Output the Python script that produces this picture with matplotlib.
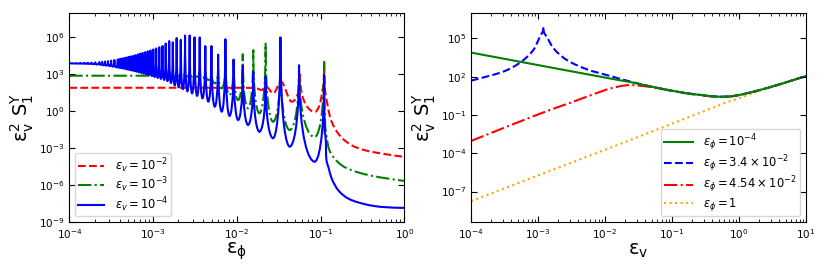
import numpy as np
import matplotlib
matplotlib.use("Agg")
import matplotlib.pyplot as plt
from matplotlib.path import Path
from matplotlib.patches import PathPatch
from matplotlib.ticker import NullLocator, LogLocator

# ---- data (log10 values) ----
# node kinds: 'l' plain point, 'h' flat point (trough / rounded bump), 'p' sharp resonance peak

# left panel, eps_v = 1e-4 (blue)
blue_lx = [-4.0, -3.985,
           -3.965, -3.94, -3.919, -3.89, -3.870, -3.84, -3.818, -3.80, -3.778, -3.76,
           -3.735, -3.71, -3.690, -3.67, -3.642, -3.625, -3.609, -3.59, -3.575, -3.557,
           -3.539, -3.52, -3.501, -3.48, -3.462, -3.44, -3.421, -3.41, -3.400, -3.389,
           -3.378, -3.367, -3.356, -3.345, -3.333, -3.32, -3.310, -3.298, -3.286, -3.273,
           -3.261, -3.248, -3.235, -3.222, -3.209, -3.195, -3.181, -3.167, -3.153, -3.138,
           -3.124, -3.109, -3.094, -3.078, -3.063, -3.047, -3.031, -3.014, -2.997, -2.98,
           -2.963, -2.945, -2.926, -2.907, -2.888, -2.868,
           -2.849, -2.828, -2.807, -2.786, -2.764, -2.741, -2.718, -2.694, -2.669, -2.644,
           -2.618, -2.59, -2.563, -2.534, -2.505, -2.474, -2.443, -2.41, -2.376, -2.34,
           -2.303, -2.263, -2.223, -2.18, -2.136, -2.087, -2.038, -1.984, -1.929, -1.866,
           -1.803, -1.73, -1.656, -1.567, -1.479, -1.368, -1.257, -1.07, -0.957,
           -0.947, -0.935, -0.907, -0.867, -0.788, -0.669, -0.469, -0.27, 0.0]
blue_ly = [3.89, 3.89,
           3.90, 3.88, 3.91, 3.875, 3.92, 3.87, 3.93, 3.86, 3.94, 3.85,
           3.95, 3.83, 3.97, 3.80, 3.99, 3.77, 4.01, 3.74, 4.04, 3.71,
           4.07, 3.67, 4.11, 3.62, 4.16, 3.57, 4.21, 3.54, 4.24, 3.52,
           4.27, 3.49, 4.30, 3.46, 4.34, 3.42, 4.38, 3.38, 4.42, 3.34,
           4.46, 3.30, 4.50, 3.26, 4.56, 3.21, 4.62, 3.16, 4.68, 3.11,
           4.74, 3.05, 4.80, 2.99, 4.87, 2.93, 4.94, 2.86, 5.02, 2.79,
           5.10, 2.71, 5.20, 2.63, 5.30, 2.55,
           5.50, 2.45, 5.70, 2.30, 5.60, 2.10, 5.95, 1.95, 5.80, 1.80,
           6.15, 1.62, 6.15, 1.45, 6.00, 1.25, 6.00, 1.05, 5.30, 0.78,
           5.30, 0.37, 4.60, -0.03, 5.85, -0.38, 4.20, -0.71, 3.70, -1.11,
           3.20, -1.66, 2.80, -2.19, 6.00, -2.87, 3.70, -4.09, 2.95,
           -1.81, -3.16, -4.51, -5.46, -6.41, -7.08, -7.54, -7.76, -7.84]
blue_kind = ["l", "l"] + ["p", "h"] * 53 + ["p"] + ["l"] * 9

# left panel, eps_v = 1e-3 (green)
green_lx = [-4.0, -2.95,
            -2.849, -2.828, -2.807, -2.786, -2.764, -2.741, -2.718, -2.694, -2.669, -2.644,
            -2.618, -2.59, -2.563, -2.534, -2.505, -2.474, -2.443, -2.41, -2.376, -2.34,
            -2.303, -2.263, -2.223, -2.18, -2.136, -2.087, -2.038, -1.984, -1.929, -1.866,
            -1.803, -1.73, -1.656, -1.567, -1.479, -1.368, -1.257, -1.07, -0.957,
            -0.939, -0.907, -0.848, -0.747, -0.628, -0.469, -0.27, 0.0]
green_ly = [2.89, 2.89,
            2.97, 2.86, 3.00, 2.86, 3.02, 2.85, 3.05, 2.85, 3.08, 2.84,
            3.12, 2.83, 3.15, 2.82, 3.18, 2.80, 3.21, 2.67, 3.21, 2.54,
            3.21, 2.27, 3.40, 1.86, 3.90, 1.32, 4.16, 0.91, 4.64, 0.24,
            4.97, -0.16, 5.50, -0.85, 4.30, -1.52, 3.75, -2.10, 4.00,
            -1.54, -2.89, -3.70, -4.38, -4.78, -5.11, -5.38, -5.65]
green_kind = ["l", "l"] + ["p", "h"] * 19 + ["p"] + ["l"] * 8

# left panel, eps_v = 1e-2 (red)
red_lx = [-4.0, -1.90, -1.78, -1.703, -1.651, -1.564, -1.472, -1.344, -1.245, -1.066,
          -1.006, -0.978, -0.957,
          -0.927, -0.887, -0.827, -0.747, -0.628, -0.469, -0.27, 0.0]
red_ly = [1.91, 1.91, 1.89, 1.73, 2.00, 1.46, 2.40, 0.78, 3.00, -0.05,
          0.62, 1.70, 4.00,
          0.89, -0.46, -1.41, -2.14, -2.76, -3.16, -3.43, -3.70]
red_kind = ["l", "l", "h", "h", "h", "h", "h", "h", "p", "h",
            "l", "l", "p",
            "l", "l", "l", "l", "l", "l", "l", "l"]

# right panel (x = eps_v)
r_green_lx = [-4.0, -1.83, -1.58, -1.23, -0.83, -0.53, -0.31, -0.09, 0.12, 0.31, 0.61, 1.0]
r_green_ly = [3.88, 1.76, 1.53, 1.13, 0.74, 0.54, 0.43, 0.48, 0.70, 0.95, 1.40, 2.05]
r_green_kind = ["l"] * 12

r_blue_lx = [-4.0, -3.52, -3.27, -3.07, -2.96, -2.921, -2.87, -2.77, -2.57, -2.27, -1.98,
             -1.58, -1.23, -0.83, -0.53, -0.31, -0.09, 0.12, 0.31, 0.61, 1.0]
r_blue_ly = [1.68, 2.39, 3.09, 4.08, 5.26, 5.91, 5.13, 4.22, 3.30, 2.57, 2.13,
             1.55, 1.13, 0.74, 0.54, 0.43, 0.48, 0.70, 0.95, 1.40, 2.05]
r_blue_kind = ["l"] * 5 + ["p"] + ["l"] * 15

r_red_lx = [-4.0, -2.97, -2.47, -1.98, -1.80, -1.65, -1.50, -1.23, -0.83, -0.53, -0.31,
            -0.09, 0.12, 0.31, 0.61, 1.0]
r_red_ly = [-3.04, -0.90, 0.04, 0.98, 1.22, 1.33, 1.30, 1.11, 0.72, 0.52, 0.41,
            0.46, 0.69, 0.95, 1.40, 2.05]
r_red_kind = ["l", "l", "l", "l", "l", "h"] + ["l"] * 10

r_orange_lx = [-4.0, -1.63, -0.2, 0.0, 0.31, 0.61, 1.0]
r_orange_ly = [-7.75, -2.98, -0.05, 0.30, 0.90, 1.40, 2.05]
r_orange_kind = ["l"] * 7

left_labels = [r"$\epsilon_v=10^{-2}$", r"$\epsilon_v=10^{-3}$", r"$\epsilon_v=10^{-4}$"]
right_labels = [r"$\epsilon_\phi=10^{-4}$", r"$\epsilon_\phi=3.4\times10^{-2}$",
                r"$\epsilon_\phi=4.54\times10^{-2}$", r"$\epsilon_\phi=1$"]


def curve_path(lx, ly, kind, k=0.8):
    """Bezier path through the read nodes (built in log space)."""
    n = len(lx)
    slope = []
    for i in range(n):
        if kind[i] != "l":
            slope.append(0.0)
            continue
        nb = [j for j in (i - 1, i + 1) if 0 <= j < n and kind[j] != "p"]
        if len(nb) == 2:
            a, b = nb
        elif len(nb) == 1:
            a, b = sorted((i, nb[0]))
        else:
            slope.append(0.0)
            continue
        slope.append((ly[b] - ly[a]) / (lx[b] - lx[a]))
    verts = [(lx[0], ly[0])]
    codes = [Path.MOVETO]
    for i in range(n - 1):
        x0, y0, x1, y1 = lx[i], ly[i], lx[i + 1], ly[i + 1]
        dx = x1 - x0
        if kind[i] == "p":
            c1 = (x0, y0 + k * (y1 - y0))
        else:
            c1 = (x0 + dx / 3, y0 + slope[i] * dx / 3)
        if kind[i + 1] == "p":
            c2 = (x1, y1 + k * (y0 - y1))
        else:
            c2 = (x1 - dx / 3, y1 - slope[i + 1] * dx / 3)
        verts += [c1, c2, (x1, y1)]
        codes += [Path.CURVE4] * 3
    return Path(10.0 ** np.array(verts), codes)


def draw(ax, lx, ly, kind, color, ls, label, lw=1.5):
    ax.add_patch(PathPatch(curve_path(lx, ly, kind), fill=False, edgecolor=color,
                           linestyle=ls, linewidth=lw, joinstyle="round", capstyle="butt"))
    ax.plot([], [], color=color, linestyle=ls, linewidth=lw, label=label)


def style(ax):
    ax.set_xscale("log")
    ax.set_yscale("log")
    ax.tick_params(which="both", direction="in", top=True, right=True, labelsize=7.5)
    ax.tick_params(which="major", length=4, width=0.8)
    ax.tick_params(which="minor", length=2, width=0.6)
    ax.yaxis.set_minor_locator(NullLocator())


fig = plt.figure(figsize=(8.3, 2.71), dpi=100)
ax1 = fig.add_axes([0.0835, 0.180, 0.4036, 0.773])
ax2 = fig.add_axes([0.5675, 0.180, 0.4036, 0.773])

# left panel
style(ax1)
draw(ax1, red_lx, red_ly, red_kind, "red", "--", left_labels[0])
draw(ax1, green_lx, green_ly, green_kind, "green", "-.", left_labels[1])
draw(ax1, blue_lx, blue_ly, blue_kind, "blue", "-", left_labels[2])
ax1.set_xlim(1e-4, 1e0)
ax1.set_yticks([1e-9, 1e-6, 1e-3, 1e0, 1e3, 1e6])
ax1.xaxis.set_major_locator(LogLocator(base=10.0))
ax1.set_ylim(1e-9, 1e8)
ax1.set_xlabel(r"$\mathregular{\epsilon_\phi}$", fontsize=14, labelpad=0)
ax1.set_ylabel(r"$\mathregular{\epsilon_v^2\ S_1^Y}$", fontsize=14, labelpad=2)
ax1.legend(loc="lower left", fontsize=8.3, handlelength=2.3, handletextpad=0.9,
           borderpad=0.25, labelspacing=0.05)

# right panel
style(ax2)
draw(ax2, r_orange_lx, r_orange_ly, r_orange_kind, "orange", ":", right_labels[3])
draw(ax2, r_red_lx, r_red_ly, r_red_kind, "red", "-.", right_labels[2])
draw(ax2, r_blue_lx, r_blue_ly, r_blue_kind, "blue", "--", right_labels[1])
draw(ax2, r_green_lx, r_green_ly, r_green_kind, "green", "-", right_labels[0])
ax2.set_xlim(1e-4, 1e1)
ax2.set_yticks([1e-7, 1e-4, 1e-1, 1e2, 1e5])
ax2.set_ylim(10 ** -9.4, 1e7)
ax2.set_xlabel(r"$\mathregular{\epsilon_v}$", fontsize=14, labelpad=0)
ax2.set_ylabel(r"$\mathregular{\epsilon_v^2\ S_1^Y}$", fontsize=14, labelpad=2)
h, l = ax2.get_legend_handles_labels()
ax2.legend(h[::-1], l[::-1], loc="lower right", fontsize=8.3, handlelength=2.5,
           handletextpad=0.9, borderpad=0.3, labelspacing=0.05)

fig.savefig("out.png", dpi=100)
